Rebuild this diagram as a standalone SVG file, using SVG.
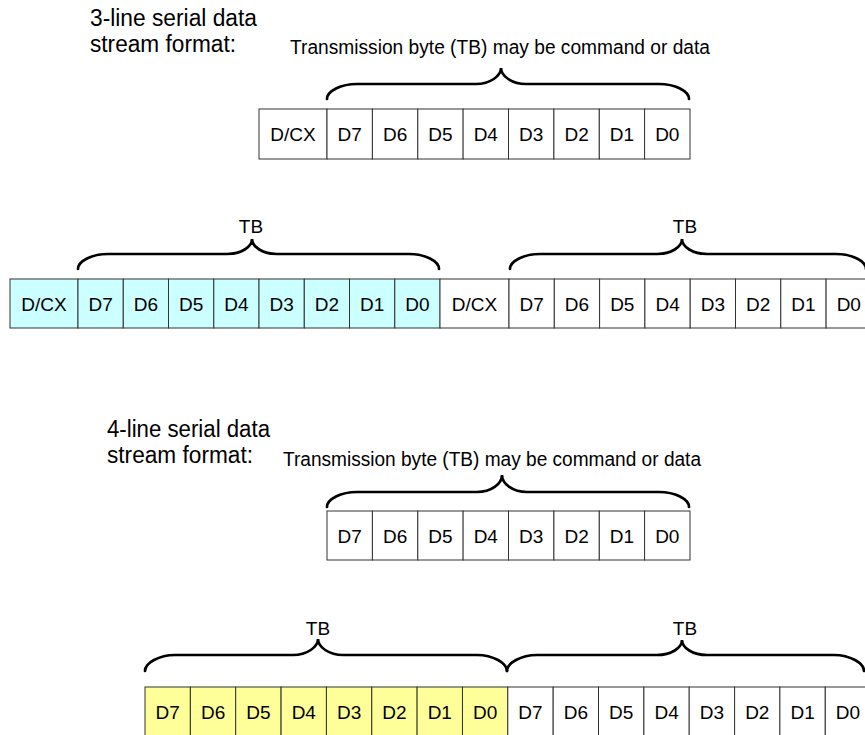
<svg xmlns="http://www.w3.org/2000/svg" width="865" height="735" viewBox="0 0 865 735">
<style>
.c rect{stroke:#333;stroke-width:1;fill:#fff}
.cy rect{fill:#ccffff}
.ye rect{fill:#ffff99}
.c text{font-family:"Liberation Sans",Arial,sans-serif;font-size:19px;fill:#000;text-anchor:middle}
.t{font-family:"Liberation Sans",Arial,sans-serif;fill:#000}
.h{font-size:23px}
.s{font-size:19.5px}
.tb{font-family:"Liberation Sans",Arial,sans-serif;font-size:19px;text-anchor:middle}
.br{fill:none;stroke:#000;stroke-width:2.7;stroke-linecap:round;stroke-linejoin:miter}
</style>
<rect width="865" height="735" fill="#fff"/>

<g id="labels">
<text class="t h" x="90" y="26" textLength="167" lengthAdjust="spacingAndGlyphs">3-line serial data</text>
<text class="t h" x="90" y="52" textLength="146" lengthAdjust="spacingAndGlyphs">stream format:</text>
<text class="t s" x="290" y="54" textLength="420" lengthAdjust="spacingAndGlyphs">Transmission byte (TB) may be command or data</text>
<text class="tb" x="251" y="233">TB</text>
<text class="tb" x="685" y="233">TB</text>
<text class="t h" x="107" y="437" textLength="163" lengthAdjust="spacingAndGlyphs">4-line serial data</text>
<text class="t h" x="107" y="463" textLength="146" lengthAdjust="spacingAndGlyphs">stream format:</text>
<text class="t s" x="283" y="466" textLength="418" lengthAdjust="spacingAndGlyphs">Transmission byte (TB) may be command or data</text>
<text class="tb" x="318" y="635">TB</text>
<text class="tb" x="685" y="635">TB</text>
</g>

<g id="connectors">
<path class="br" d="M327,99 C327,91 341,84 357,84 L476,84 C490,84 501,76 501,68 C501,76 512,84 526,84 L659,84 C675,84 689,91 689,99"/>
<path class="br" d="M78,269 C78,261 92,254 108,254 L227,254 C241,254 252,247 252,239 C252,247 263,254 277,254 L409,254 C425,254 439,261 439,269"/>
<path class="br" d="M510,269 C510,261 524,254 540,254 L657,254 C671,254 682,247 682,239 C682,247 693,254 707,254 L836,254 C852,254 866,261 866,269"/>
<path class="br" d="M327,507 C327,499 341,492 357,492 L477,492 C491,492 502,484 502,475 C502,484 513,492 527,492 L659,492 C675,492 689,499 689,507"/>
<path class="br" d="M145,671 C145,663 159,655 175,655 L293,655 C307,655 318,647 318,639 C318,647 329,655 343,655 L477,655 C493,655 507,663 507,671"/>
<path class="br" d="M507,671 C507,663 521,655 537,655 L657,655 C671,655 682,648 682,640 C682,648 693,655 707,655 L834,655 C850,655 864,663 864,671"/>
</g>

<g id="row1" class="c">
<g id="r1-dcx"><rect x="259" y="109" width="68" height="50"/><text x="293" y="141">D/CX</text></g>
<g id="r1-d7"><rect x="327" y="109" width="45.4" height="50"/><text x="349.7" y="141">D7</text></g>
<g id="r1-d6"><rect x="372.4" y="109" width="45.4" height="50"/><text x="395.1" y="141">D6</text></g>
<g id="r1-d5"><rect x="417.8" y="109" width="45.4" height="50"/><text x="440.5" y="141">D5</text></g>
<g id="r1-d4"><rect x="463.1" y="109" width="45.4" height="50"/><text x="485.8" y="141">D4</text></g>
<g id="r1-d3"><rect x="508.5" y="109" width="45.4" height="50"/><text x="531.2" y="141">D3</text></g>
<g id="r1-d2"><rect x="553.9" y="109" width="45.4" height="50"/><text x="576.6" y="141">D2</text></g>
<g id="r1-d1"><rect x="599.3" y="109" width="45.4" height="50"/><text x="622" y="141">D1</text></g>
<g id="r1-d0"><rect x="644.6" y="109" width="45.4" height="50"/><text x="667.3" y="141">D0</text></g>
</g>

<g id="row2" class="c">
<g class="cy">
<g id="r2a-dcx"><rect x="10" y="279" width="68" height="49"/><text x="44" y="310.5">D/CX</text></g>
<g id="r2a-d7"><rect x="78" y="279" width="45.25" height="49"/><text x="100.6" y="310.5">D7</text></g>
<g id="r2a-d6"><rect x="123.3" y="279" width="45.25" height="49"/><text x="145.9" y="310.5">D6</text></g>
<g id="r2a-d5"><rect x="168.5" y="279" width="45.25" height="49"/><text x="191.1" y="310.5">D5</text></g>
<g id="r2a-d4"><rect x="213.8" y="279" width="45.25" height="49"/><text x="236.4" y="310.5">D4</text></g>
<g id="r2a-d3"><rect x="259" y="279" width="45.25" height="49"/><text x="281.6" y="310.5">D3</text></g>
<g id="r2a-d2"><rect x="304.3" y="279" width="45.25" height="49"/><text x="326.9" y="310.5">D2</text></g>
<g id="r2a-d1"><rect x="349.5" y="279" width="45.25" height="49"/><text x="372.1" y="310.5">D1</text></g>
<g id="r2a-d0"><rect x="394.8" y="279" width="45.25" height="49"/><text x="417.4" y="310.5">D0</text></g>
</g>
<g id="r2b-dcx"><rect x="440" y="279" width="69" height="49"/><text x="474.5" y="310.5">D/CX</text></g>
<g id="r2b-d7"><rect x="509" y="279" width="45.3" height="49"/><text x="531.7" y="310.5">D7</text></g>
<g id="r2b-d6"><rect x="554.3" y="279" width="45.3" height="49"/><text x="577" y="310.5">D6</text></g>
<g id="r2b-d5"><rect x="599.6" y="279" width="45.3" height="49"/><text x="622.3" y="310.5">D5</text></g>
<g id="r2b-d4"><rect x="644.9" y="279" width="45.3" height="49"/><text x="667.6" y="310.5">D4</text></g>
<g id="r2b-d3"><rect x="690.2" y="279" width="45.3" height="49"/><text x="712.9" y="310.5">D3</text></g>
<g id="r2b-d2"><rect x="735.5" y="279" width="45.3" height="49"/><text x="758.2" y="310.5">D2</text></g>
<g id="r2b-d1"><rect x="780.8" y="279" width="45.3" height="49"/><text x="803.5" y="310.5">D1</text></g>
<g id="r2b-d0"><rect x="826.1" y="279" width="45.3" height="49"/><text x="848.8" y="310.5">D0</text></g>
</g>

<g id="row3" class="c">
<g id="r3-d7"><rect x="327" y="511" width="45.4" height="49"/><text x="349.7" y="542.5">D7</text></g>
<g id="r3-d6"><rect x="372.4" y="511" width="45.4" height="49"/><text x="395.1" y="542.5">D6</text></g>
<g id="r3-d5"><rect x="417.8" y="511" width="45.4" height="49"/><text x="440.5" y="542.5">D5</text></g>
<g id="r3-d4"><rect x="463.1" y="511" width="45.4" height="49"/><text x="485.8" y="542.5">D4</text></g>
<g id="r3-d3"><rect x="508.5" y="511" width="45.4" height="49"/><text x="531.2" y="542.5">D3</text></g>
<g id="r3-d2"><rect x="553.9" y="511" width="45.4" height="49"/><text x="576.6" y="542.5">D2</text></g>
<g id="r3-d1"><rect x="599.3" y="511" width="45.4" height="49"/><text x="622" y="542.5">D1</text></g>
<g id="r3-d0"><rect x="644.6" y="511" width="45.4" height="49"/><text x="667.3" y="542.5">D0</text></g>
</g>

<g id="row4" class="c">
<g class="ye">
<g id="r4a-d7"><rect x="145" y="687" width="45.35" height="50"/><text x="167.7" y="718.5">D7</text></g>
<g id="r4a-d6"><rect x="190.4" y="687" width="45.35" height="50"/><text x="213.1" y="718.5">D6</text></g>
<g id="r4a-d5"><rect x="235.7" y="687" width="45.35" height="50"/><text x="258.4" y="718.5">D5</text></g>
<g id="r4a-d4"><rect x="281.1" y="687" width="45.35" height="50"/><text x="303.8" y="718.5">D4</text></g>
<g id="r4a-d3"><rect x="326.4" y="687" width="45.35" height="50"/><text x="349.1" y="718.5">D3</text></g>
<g id="r4a-d2"><rect x="371.8" y="687" width="45.35" height="50"/><text x="394.5" y="718.5">D2</text></g>
<g id="r4a-d1"><rect x="417.1" y="687" width="45.35" height="50"/><text x="439.8" y="718.5">D1</text></g>
<g id="r4a-d0"><rect x="462.5" y="687" width="45.35" height="50"/><text x="485.2" y="718.5">D0</text></g>
</g>
<g id="r4b-d7"><rect x="507.8" y="687" width="45.35" height="50"/><text x="530.5" y="718.5">D7</text></g>
<g id="r4b-d6"><rect x="553.2" y="687" width="45.35" height="50"/><text x="575.9" y="718.5">D6</text></g>
<g id="r4b-d5"><rect x="598.5" y="687" width="45.35" height="50"/><text x="621.2" y="718.5">D5</text></g>
<g id="r4b-d4"><rect x="643.9" y="687" width="45.35" height="50"/><text x="666.6" y="718.5">D4</text></g>
<g id="r4b-d3"><rect x="689.2" y="687" width="45.35" height="50"/><text x="711.9" y="718.5">D3</text></g>
<g id="r4b-d2"><rect x="734.6" y="687" width="45.35" height="50"/><text x="757.3" y="718.5">D2</text></g>
<g id="r4b-d1"><rect x="779.9" y="687" width="45.35" height="50"/><text x="802.6" y="718.5">D1</text></g>
<g id="r4b-d0"><rect x="825.3" y="687" width="45.35" height="50"/><text x="848" y="718.5">D0</text></g>
</g>
</svg>
